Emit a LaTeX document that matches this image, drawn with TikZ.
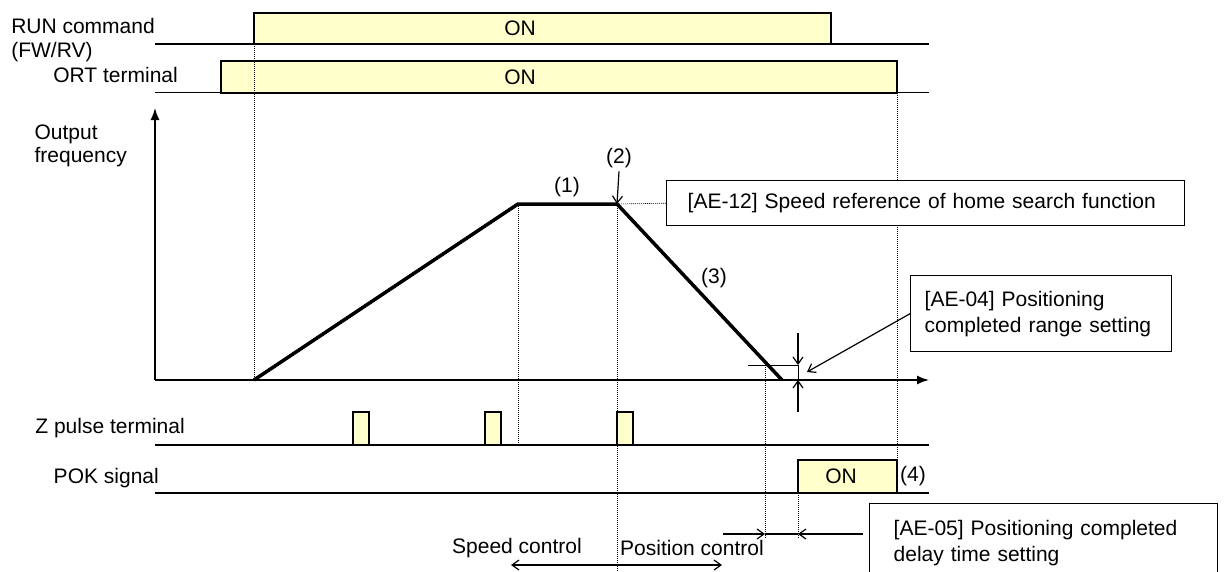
\documentclass[tikz,border=0pt]{standalone}
\usepackage{fontspec}
\setmainfont{Liberation Sans}
\usetikzlibrary{arrows.meta}
\definecolor{onyellow}{RGB}{255,255,204}
\newcommand{\lblfont}{\fontsize{21}{26}\selectfont}
\begin{document}
\begin{tikzpicture}[x=1pt,y=-1pt,
    lbl/.style={anchor=base east, font=\lblfont, inner sep=0pt},
    sig/.style={line width=1.5pt},
    onbox/.style={draw=black, line width=1.6pt, fill=onyellow},
    guide/.style={line width=0.6pt, dash pattern=on 1pt off 1pt},
    note/.style={draw=black, fill=white, line width=1.4pt, anchor=north west,
      align=left, font=\lblfont, inner ysep=0pt},
    tip/.style={line width=1.2pt, -{Straight Barb[length=7pt,width=10pt]}},
    axis/.style={line width=1.5pt, -{Latex[length=12pt,width=9pt]}}]
    \clip (0,0) rectangle (1227,571);
    \node[lbl] (runlbl) at (155,33) {RUN command};
    \node[lbl, anchor=base west] (fwrv) at (runlbl.base west |- 0,57) {(FW/RV)};
    \node[lbl] (ortlbl) at (178,82) {ORT terminal};
    \node[lbl] (freqlbl) at (127,162) {frequency};
    \node[lbl, anchor=base west] (outlbl) at (freqlbl.base west |- 0,139) {Output};
    \node[lbl] (zlbl) at (185,433) {Z pulse terminal};
    \node[lbl] (poklbl) at (159,483) {POK signal};
    \foreach \yl in {44,92.7,445,493} {
      \draw[sig] (155,\yl) -- (929,\yl);
    }
    \draw[onbox] (254,12.7) rectangle (831,44);
    \draw[onbox] (221,61) rectangle (897,92.7);
    \foreach \px/\nm in {353/za,485/zb,617/zc} {
      \draw[onbox] (\px,412) rectangle ++(16,33);
    }
    \draw[onbox] (798,460) rectangle (897,493);
    \node[font=\lblfont] (runon) at (520,28) {ON};
    \node[font=\lblfont] (orton) at (520,77) {ON};
    \node[font=\lblfont] (pokon) at (841,476) {ON};
    \node[font=\lblfont, anchor=west, inner sep=1pt] (p4) at (899,476) {(4)};
    \coordinate (o) at (155,380);
    \coordinate (start) at (254,380);
    \coordinate (acc) at (518,204);
    \coordinate (dec) at (617,204);
    \coordinate (stop) at (782,380);
    \node[note, minimum width=518pt, minimum height=45pt, text width=476pt,
      inner xsep=21pt] (ae12) at (666,180)
      {[AE-12] Speed reference of home search function};
    \draw[guide] (254,44) -- (start);
    \draw[guide] (acc) -- (518,445);
    \draw[guide] (dec) -- (617,571);
    \draw[guide] (dec) -- (ae12.west);
    \draw[guide] (765,365) -- (765,538);
    \draw[guide] (798,493) -- (798,538);
    \draw[guide] (897,92.7) -- (897,180);
    \draw[guide] (897,225) -- (897,460);
    \draw[axis] (o) -- (155,108);
    \draw[axis] (o) -- (929,380);
    \draw[line width=3.5pt, line join=miter] (start) -- (acc) -- (dec) -- (stop);
    \node[font=\lblfont] (p1) at (567,187) {(1)};
    \node[font=\lblfont] (p2) at (619,158) {(2)};
    \node[font=\lblfont] (p3) at (714,278) {(3)};
    \draw[tip] (p2.south) -- (dec);
    \node[note, minimum width=261pt, minimum height=76pt, text width=233pt,
      inner xsep=14pt] (ae04) at (910,275)
      {[AE-04] Positioning\\completed range setting};
    \coordinate (rngtop) at (798,365);
    \coordinate (rngbot) at (798,380);
    \draw[line width=1pt] (748,365) -- (rngtop) -- (rngbot);
    \draw[tip] (798,333) -- (rngtop);
    \draw[tip] (798,412) -- (rngbot);
    \draw[tip] (ae04.west) -- (807,372);
    \node[note, minimum width=348pt, minimum height=78pt, text width=300pt,
      inner xsep=24pt] (ae05) at (869,503)
      {[AE-05] Positioning completed\\delay time setting};
    \draw[tip] (723,534) -- (765,534);
    \draw[line width=1.2pt] (765,534) -- (798,534);
    \draw[tip] (863,534) -- (798,534);
    \node[font=\lblfont, anchor=east, inner sep=0pt] (spd) at (582,548) {Speed control};
    \node[font=\lblfont, anchor=west, inner sep=0pt] (pos) at (620,548) {Position control};
    \draw[line width=1.2pt, {Straight Barb[length=7pt,width=10pt]}-{Straight Barb[length=7pt,width=10pt]}]
      (511,565) -- (722,565);
  \end{tikzpicture}
\end{document}
